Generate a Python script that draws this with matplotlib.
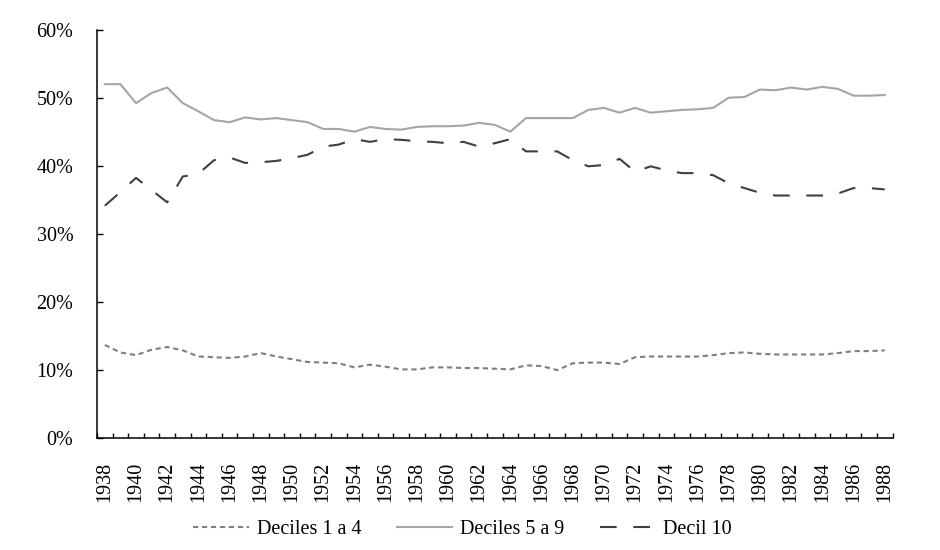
import numpy as np
import matplotlib
matplotlib.use("Agg")
import matplotlib.pyplot as plt
from matplotlib.ticker import FixedLocator, PercentFormatter

plt.rcParams['font.family'] = ['Liberation Serif', 'DejaVu Serif']

years = list(range(1938, 1989))

# share of income (%)
deciles_1_4 = [13.7, 12.6, 12.2, 13.0, 13.4, 12.9, 12.0, 11.9, 11.8, 12.0,
               12.5, 12.0, 11.6, 11.2, 11.1, 11.0, 10.4, 10.8, 10.5, 10.1,
               10.1, 10.4, 10.4, 10.3, 10.3, 10.2, 10.1, 10.7, 10.6, 10.0,
               11.0, 11.1, 11.1, 10.9, 11.9, 12.0, 12.0, 12.0, 12.0, 12.2,
               12.5, 12.6, 12.4, 12.3, 12.3, 12.3, 12.3, 12.5, 12.8, 12.8,
               12.9]
deciles_5_9 = [52.1, 52.1, 49.3, 50.8, 51.6, 49.3, 48.1, 46.8, 46.5, 47.2,
               46.9, 47.1, 46.8, 46.5, 45.5, 45.5, 45.1, 45.8, 45.5, 45.4,
               45.8, 45.9, 45.9, 46.0, 46.4, 46.1, 45.1, 47.1, 47.1, 47.1,
               47.1, 48.3, 48.6, 47.9, 48.6, 47.9, 48.1, 48.3, 48.4, 48.6,
               50.1, 50.2, 51.3, 51.2, 51.6, 51.3, 51.7, 51.4, 50.4, 50.4,
               50.5]
decil_10 = [34.2, 36.2, 38.3, 36.5, 34.7, 38.5, 38.9, 40.9, 41.3, 40.5,
            40.6, 40.8, 41.2, 41.7, 42.9, 43.2, 44.0, 43.6, 44.0, 43.9,
            43.7, 43.6, 43.4, 43.6, 42.9, 43.4, 44.0, 42.2, 42.2, 42.2,
            40.9, 40.0, 40.2, 41.1, 39.2, 40.0, 39.4, 39.0, 39.0, 38.7,
            37.5, 36.8, 36.1, 35.7, 35.7, 35.7, 35.7, 36.0, 36.8, 36.8,
            36.6]

fig = plt.figure(figsize=(9.4, 5.5), dpi=100)
ax = fig.add_axes([0.1032, 0.2036, 0.8463, 0.741])

x = np.arange(len(years))
ax.plot(x, deciles_1_4, color='#7f7f7f', lw=1.5, dashes=(2.5, 1.8),
        label='Deciles 1 a 4')
ax.plot(x, deciles_5_9, color='#a5a5a5', lw=1.5, label='Deciles 5 a 9')
ax.plot(x, decil_10, color='#404040', lw=1.5, dashes=(8, 8),
        label='Decil 10')

ax.set_xlim(-0.5, len(years) - 0.5)
ax.set_ylim(0, 60)

ax.yaxis.set_major_locator(FixedLocator(np.arange(0, 61, 10)))
ax.yaxis.set_major_formatter(PercentFormatter(decimals=0))

# tick marks between categories, labels every two years at the centres
ax.xaxis.set_major_locator(FixedLocator(np.arange(len(years) + 1) - 0.5))
ax.xaxis.set_major_formatter(plt.NullFormatter())
ax.xaxis.set_minor_locator(FixedLocator(x[::2]))
ax.set_xticklabels([str(y) for y in years[::2]], minor=True, rotation=90)

ax.tick_params(axis='x', which='major', direction='in', length=3.5, width=1)
ax.tick_params(axis='x', which='minor', length=0, pad=17, labelsize=14.5)
ax.tick_params(axis='y', direction='in', length=4.5, width=1, pad=17,
               labelsize=14.5)

for side in ['top', 'right']:
    ax.spines[side].set_visible(False)
for side in ['left', 'bottom']:
    ax.spines[side].set_linewidth(1.1)

fig.legend(loc='center', bbox_to_anchor=(0.492, 0.037), ncol=3,
           frameon=False, fontsize=14.5, handlelength=2.75,
           handletextpad=0.4, columnspacing=1.75)

fig.savefig('out.png', dpi=100)
